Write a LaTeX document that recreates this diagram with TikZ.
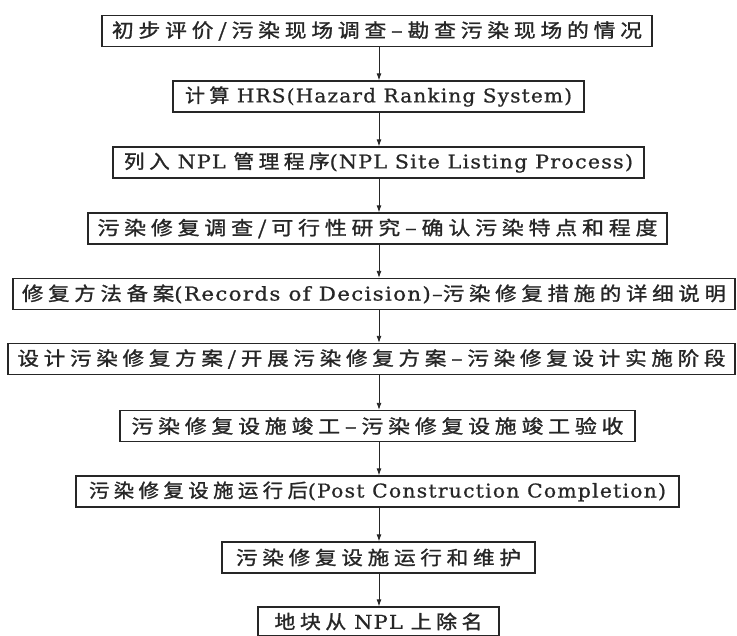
\documentclass[tikz,border=0pt]{standalone}
\usepackage{fontspec}
\setmainfont{DejaVu Serif}[LetterSpace=6, FakeBold=0.8]
\newfontfamily\cjk{Noto Sans CJK SC}[LetterSpace=22, FakeBold=1.2]
\usetikzlibrary{arrows.meta}
\newcommand{\fitw}[2]{\resizebox{#1}{\height}{#2}}
\begin{document}
\begin{tikzpicture}[x=1pt,y=-1pt,
  box/.style={draw=black!85, line width=1.3pt, minimum height=31pt, inner sep=0pt,
    font=\fontsize{19}{21}\selectfont, text=black!85},
  arr/.style={draw=black!85, line width=0.9pt, -{Latex[length=7pt,width=5pt]}}]
\useasboundingbox (0,0) rectangle (737,636);
\node[box, minimum width=550pt] (b1) at (377,31) {\fitw{530pt}{\cjk 初步评价/污染现场调查–勘查污染现场的情况}};
\node[box, minimum width=411pt] (b2) at (378.5,96.5) {\fitw{387pt}{{\cjk 计算} HRS(Hazard Ranking System)}};
\node[box, minimum width=531pt] (b3) at (378.5,162.5) {\fitw{509pt}{{\cjk 列入} NPL {\cjk 管理程序}(NPL Site Listing Process)}};
\node[box, minimum width=579pt] (b4) at (377.5,228.5) {\fitw{560pt}{\cjk 污染修复调查/可行性研究–确认污染特点和程度}};
\node[box, minimum width=722pt] (b5) at (374,294) {\fitw{704pt}{{\cjk 修复方法备案}(Records of Decision)–{\cjk 污染修复措施的详细说明}}};
\node[box, minimum width=727pt] (b6) at (371.5,359) {\fitw{708pt}{\cjk 设计污染修复方案/开展污染修复方案–污染修复设计实施阶段}};
\node[box, minimum width=515pt] (b7) at (377.5,426) {\fitw{492pt}{\cjk 污染修复设施竣工–污染修复设施竣工验收}};
\node[box, minimum width=603pt] (b8) at (377.5,491.5) {\fitw{577pt}{{\cjk 污染修复设施运行后}(Post Construction Completion)}};
\node[box, minimum width=313pt] (b9) at (378.5,557.5) {\fitw{285pt}{\cjk 污染修复设施运行和维护}};
\node[box, minimum width=241pt, minimum height=29pt] (b10) at (378.5,621.5) {\fitw{208pt}{{\cjk 地块从} NPL {\cjk 上除名}}};
\coordinate (ax) at (379,0);
\foreach \a/\b in {b1/b2,b2/b3,b3/b4,b4/b5,b5/b6,b6/b7,b7/b8,b8/b9,b9/b10}
  \draw[arr] (\a.south -| ax) -- (\b.north -| ax);
\end{tikzpicture}
\end{document}
